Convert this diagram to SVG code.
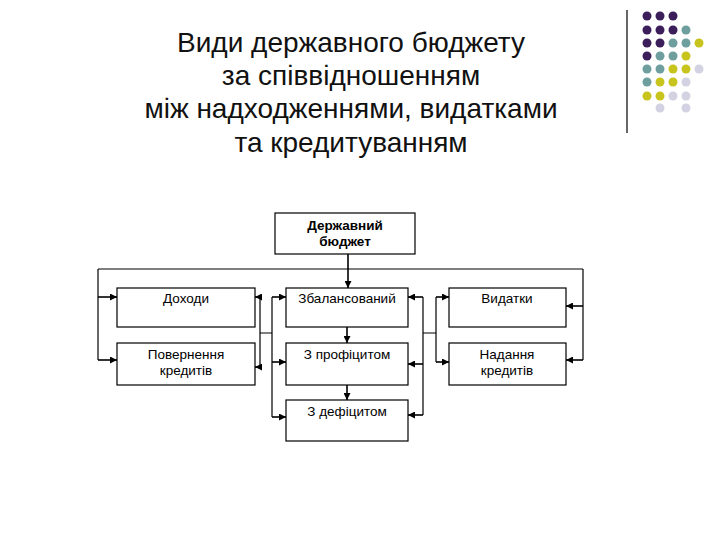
<svg xmlns="http://www.w3.org/2000/svg" width="720" height="540" viewBox="0 0 720 540">
<defs>
<style>
.t{font-family:"Liberation Sans",Arial,sans-serif;font-size:28px;fill:#111;text-anchor:middle}
.b{fill:#fff;stroke:#000;stroke-width:1.2}
.l{font-family:"Liberation Sans",Arial,sans-serif;font-size:13.5px;fill:#000;text-anchor:middle}
.c{fill:none;stroke:#000;stroke-width:1.2}
.a{fill:none;stroke:#000;stroke-width:1.6;marker-end:url(#ar)}
.P{fill:#3c1f5a}.T{fill:#6f9e9e}.Y{fill:#c8c41e}.L{fill:#d2d2e2}
</style>
<marker id="ar" viewBox="0 0 10 10" refX="10" refY="5" markerWidth="7" markerHeight="7" markerUnits="userSpaceOnUse" orient="auto"><path d="M0,0L10,5L0,10z" fill="#000"/></marker>
</defs>
<rect width="720" height="540" fill="#fff"/>
<g id="title">
<text class="t" x="351" y="52">Види державного бюджету</text>
<text class="t" x="351" y="85">за співвідношенням</text>
<text class="t" x="351" y="118">між надходженнями, видатками</text>
<text class="t" x="351" y="152">та кредитуванням</text>
</g>
<g id="decor">
<line x1="627" y1="10" x2="627" y2="133" stroke="#000" stroke-width="1.2"/>
<g>
<circle class="P" cx="647" cy="16" r="4.5"/><circle class="P" cx="660" cy="16" r="4.5"/><circle class="P" cx="673" cy="16" r="4.5"/>
<circle class="P" cx="647" cy="30" r="4.5"/><circle class="P" cx="660" cy="30" r="4.5"/><circle class="P" cx="673" cy="30" r="4.5"/><circle class="T" cx="686" cy="30" r="4.5"/>
<circle class="P" cx="647" cy="43" r="4.5"/><circle class="P" cx="660" cy="43" r="4.5"/><circle class="T" cx="673" cy="43" r="4.5"/><circle class="T" cx="686" cy="43" r="4.5"/><circle class="Y" cx="699" cy="43" r="4.5"/>
<circle class="P" cx="647" cy="56" r="4.5"/><circle class="T" cx="660" cy="56" r="4.5"/><circle class="T" cx="673" cy="56" r="4.5"/><circle class="Y" cx="686" cy="56" r="4.5"/>
<circle class="T" cx="647" cy="69" r="4.5"/><circle class="T" cx="660" cy="69" r="4.5"/><circle class="Y" cx="673" cy="69" r="4.5"/><circle class="Y" cx="686" cy="69" r="4.5"/><circle class="L" cx="699" cy="69" r="4.5"/>
<circle class="T" cx="647" cy="82" r="4.5"/><circle class="Y" cx="660" cy="82" r="4.5"/><circle class="Y" cx="673" cy="82" r="4.5"/><circle class="L" cx="686" cy="82" r="4.5"/>
<circle class="Y" cx="647" cy="96" r="4.5"/><circle class="Y" cx="660" cy="96" r="4.5"/><circle class="L" cx="673" cy="96" r="4.5"/><circle class="L" cx="686" cy="96" r="4.5"/>
<circle class="L" cx="660" cy="108" r="4.5"/><circle class="L" cx="686" cy="108" r="4.5"/>
</g>
</g>
<g id="connectors">
<path class="a" d="M348,254V288"/>
<path class="c" d="M98,269H583"/>
<path class="c" d="M98,269V360"/>
<path class="a" d="M98,297H117"/><path class="a" d="M98,360H117"/>
<path class="c" d="M583,269V360"/>
<path class="a" d="M583,306H566"/><path class="a" d="M583,360H566"/>
<path class="c" d="M260,297V367M260,333H272M272,297V417"/>
<path class="a" d="M260,297H255"/><path class="a" d="M260,367H255"/>
<path class="a" d="M272,297H286"/><path class="a" d="M272,362H286"/><path class="a" d="M272,417H286"/>
<path class="c" d="M423,297V415M423,333H436M436,297V362"/>
<path class="a" d="M423,297H408"/><path class="a" d="M423,364H408"/><path class="a" d="M423,415H408"/>
<path class="a" d="M436,297H449"/><path class="a" d="M436,362H449"/>
<path class="a" d="M347,327V343"/><path class="a" d="M347,385V400"/>
</g>
<g id="n0"><rect class="b" x="275" y="213" width="140" height="41"/><text class="l" x="345" y="230" font-weight="bold">Державний</text><text class="l" x="345" y="246" font-weight="bold">бюджет</text></g>
<g id="n1"><rect class="b" x="117" y="288" width="138" height="39"/><text class="l" x="186" y="303">Доходи</text></g>
<g id="n2"><rect class="b" x="117" y="343" width="138" height="42"/><text class="l" x="186" y="359">Повернення</text><text class="l" x="186" y="375">кредитів</text></g>
<g id="n3"><rect class="b" x="286" y="288" width="122" height="39"/><text class="l" x="347" y="303">Збалансований</text></g>
<g id="n4"><rect class="b" x="286" y="343" width="122" height="42"/><text class="l" x="347" y="359">З профіцитом</text></g>
<g id="n5"><rect class="b" x="286" y="400" width="122" height="41"/><text class="l" x="347" y="416">З дефіцитом</text></g>
<g id="n6"><rect class="b" x="449" y="288" width="117" height="39"/><text class="l" x="507" y="303">Видатки</text></g>
<g id="n7"><rect class="b" x="449" y="343" width="117" height="42"/><text class="l" x="507" y="359">Надання</text><text class="l" x="507" y="375">кредитів</text></g>
</svg>
